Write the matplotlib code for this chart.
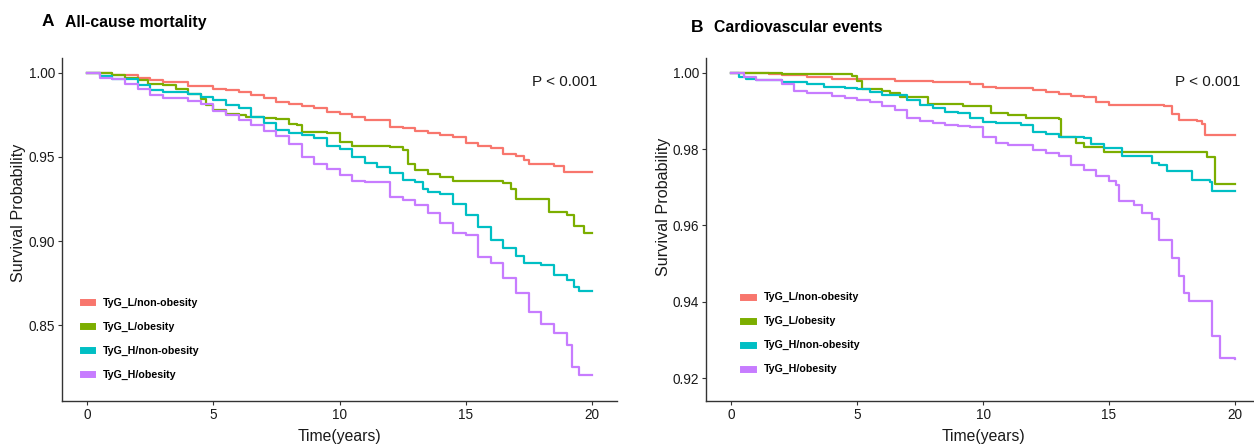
import numpy as np
import matplotlib.pyplot as plt
from matplotlib.lines import Line2D

plt.rcParams['font.family'] = ['Liberation Sans', 'DejaVu Sans']

groups = ['TyG_L/non-obesity', 'TyG_L/obesity', 'TyG_H/non-obesity', 'TyG_H/obesity']
colors = ['#F8766D', '#7CAE00', '#00BFC4', '#C77CFF']

# ---- panel A: all-cause mortality ----
a_red_t = [0, 1, 2, 2.5, 3, 4, 5, 5.5, 6, 6.5, 7, 7.5, 8, 8.5, 9, 9.5, 10, 10.5, 11, 12, 12.5, 13,
           13.5, 14, 14.5, 15, 15.5, 16, 16.5, 17, 17.3, 17.5, 18, 18.5, 18.9, 20]
a_red_s = [1.0, 0.9986, 0.9972, 0.996, 0.9947, 0.992, 0.9907, 0.9897, 0.9887, 0.9867, 0.985, 0.983,
           0.9818, 0.9806, 0.9794, 0.9766, 0.9754, 0.974, 0.972, 0.968, 0.967, 0.9653, 0.964, 0.963,
           0.962, 0.9584, 0.9564, 0.9554, 0.9517, 0.9505, 0.948, 0.946, 0.9457, 0.9445, 0.941, 0.941]

a_grn_t = [0, 1, 1.5, 2, 2.4, 3, 3.5, 4, 4.5, 4.7, 5, 5.5, 6, 6.3, 7, 7.5, 8, 8.3, 8.5, 9, 9.5, 10,
           10.5, 12, 12.5, 12.7, 13, 13.5, 14, 14.5, 16.5, 16.8, 17, 18.3, 19, 19.3, 19.7, 20]
a_grn_s = [1.0, 0.999, 0.997, 0.996, 0.9937, 0.9927, 0.9907, 0.9877, 0.9843, 0.981, 0.978, 0.9758,
           0.975, 0.9735, 0.973, 0.9725, 0.9695, 0.969, 0.965, 0.9648, 0.964, 0.959, 0.9566, 0.9558,
           0.954, 0.946, 0.942, 0.940, 0.938, 0.936, 0.9347, 0.931, 0.925, 0.9175, 0.9155, 0.909,
           0.905, 0.905]

a_cyn_t = [0, 0.5, 1, 2, 2.5, 3, 4, 4.5, 5, 5.5, 6, 6.5, 7, 7.5, 8, 8.5, 9, 9.5, 10, 10.5, 11, 11.5,
           12, 12.5, 13, 13.3, 13.5, 14, 14.5, 15, 15.5, 16, 16.5, 17, 17.3, 18, 18.5, 19, 19.3,
           19.5, 20]
a_cyn_s = [1.0, 0.998, 0.9966, 0.9927, 0.990, 0.9887, 0.9877, 0.9857, 0.9838, 0.9808, 0.979, 0.974,
           0.970, 0.9663, 0.9645, 0.963, 0.9614, 0.9564, 0.9546, 0.950, 0.9465, 0.944, 0.9406,
           0.9366, 0.935, 0.9307, 0.929, 0.928, 0.922, 0.9155, 0.9085, 0.9006, 0.8956, 0.891,
           0.8867, 0.8857, 0.880, 0.877, 0.8725, 0.870, 0.870]

a_pur_t = [0, 0.5, 1, 1.5, 2, 2.5, 3, 4, 4.5, 5, 5.5, 6, 6.5, 7, 7.5, 8, 8.5, 9, 9.5, 10, 10.5, 11,
           12, 12.5, 13, 13.5, 14, 14.5, 15, 15.5, 16, 16.5, 17, 17.5, 18, 18.5, 19, 19.2, 19.5, 20]
a_pur_s = [1.0, 0.997, 0.9962, 0.9937, 0.9907, 0.9867, 0.9853, 0.9834, 0.9818, 0.9774, 0.975, 0.972,
           0.969, 0.9655, 0.9624, 0.9576, 0.950, 0.9461, 0.9426, 0.9392, 0.936, 0.935, 0.926,
           0.9244, 0.9214, 0.9164, 0.9105, 0.9045, 0.9035, 0.8905, 0.8867, 0.8778, 0.869, 0.858,
           0.8507, 0.845, 0.838, 0.8253, 0.8203, 0.8203]

# ---- panel B: cardiovascular events ----
b_red_t = [0, 1.5, 2, 3, 4, 5, 6.5, 7, 8, 9.5, 10, 10.5, 12, 12.5, 13, 13.5, 14, 14.5, 15, 16, 17.2,
           17.5, 17.8, 18.5, 18.7, 18.8, 20]
b_red_s = [1.0, 0.9998, 0.9994, 0.999, 0.9985, 0.9983, 0.998, 0.9978, 0.9975, 0.9972, 0.9963, 0.996,
           0.9955, 0.995, 0.9944, 0.9939, 0.9936, 0.9924, 0.9916, 0.9915, 0.9913, 0.9892, 0.9877,
           0.9873, 0.9866, 0.9837, 0.9837]

b_grn_t = [0, 2, 4.8, 5, 5.2, 6, 6.3, 6.7, 7.8, 9.2, 10.3, 11, 11.7, 13, 13.1, 13.5, 13.7, 14, 14.8,
           18.9, 19.2, 20]
b_grn_s = [1.0, 0.9997, 0.9991, 0.998, 0.9957, 0.9953, 0.9946, 0.9937, 0.9918, 0.9913, 0.9896,
           0.989, 0.9883, 0.988, 0.9833, 0.9831, 0.9815, 0.9807, 0.9793, 0.978, 0.971, 0.971]

b_cyn_t = [0, 0.3, 0.6, 1, 2, 3, 3.7, 4.5, 5, 5.5, 6, 7, 7.5, 8, 8.5, 9, 9.5, 10, 10.5, 11.5, 12,
           12.5, 13, 14, 14.3, 14.8, 15.5, 16.7, 17, 17.3, 18.3, 19, 19.1, 20]
b_cyn_s = [1.0, 0.999, 0.9983, 0.9981, 0.9977, 0.997, 0.9963, 0.996, 0.9957, 0.995, 0.9942, 0.993,
           0.9916, 0.9907, 0.9898, 0.9894, 0.9881, 0.9872, 0.9868, 0.9863, 0.9844, 0.984, 0.9831,
           0.9829, 0.9814, 0.9803, 0.9781, 0.9763, 0.9759, 0.9742, 0.972, 0.9715, 0.969, 0.969]

b_pur_t = [0, 0.5, 1, 2, 2.5, 3, 4, 4.5, 5, 5.5, 6, 6.5, 7, 7.5, 8, 8.5, 9, 9.5, 10, 10.5, 11, 12,
           12.5, 13, 13.5, 14, 14.5, 15, 15.3, 15.4, 16, 16.3, 16.7, 17, 17.5, 17.8, 18, 18.2, 19.1,
           19.4, 20]
b_pur_s = [1.0, 0.9988, 0.9981, 0.9972, 0.9953, 0.9946, 0.9939, 0.9933, 0.993, 0.9924, 0.9913,
           0.9904, 0.9881, 0.9875, 0.9868, 0.9863, 0.9861, 0.9857, 0.9831, 0.9816, 0.9811, 0.9798,
           0.979, 0.9781, 0.9759, 0.9746, 0.973, 0.9716, 0.9707, 0.9663, 0.9655, 0.9633, 0.9616,
           0.9563, 0.9516, 0.9468, 0.9424, 0.9403, 0.9311, 0.9252, 0.925]

panel_a = [(a_red_t, a_red_s), (a_grn_t, a_grn_s), (a_cyn_t, a_cyn_s), (a_pur_t, a_pur_s)]
panel_b = [(b_red_t, b_red_s), (b_grn_t, b_grn_s), (b_cyn_t, b_cyn_s), (b_pur_t, b_pur_s)]

fig = plt.figure(figsize=(12.54, 4.46), dpi=100)
W, H = 1254, 446
axA = fig.add_axes([62 / W, 45 / H, 555 / W, 343 / H])
axB = fig.add_axes([706 / W, 45 / H, 554 / W, 343 / H])


def style(ax, curves, ylim, yticks, leg_anchor, ylab_x, ylab_y):
    for (t, s), c in zip(curves, colors):
        ax.step(t, s, where='post', color=c, lw=1.6)
    ax.set_xlim(-1, 21)
    ax.set_ylim(*ylim)
    ax.set_xticks([0, 5, 10, 15, 20])
    ax.set_yticks(yticks)
    ax.set_yticklabels(['%.2f' % v for v in yticks])
    for side in ['top', 'right']:
        ax.spines[side].set_visible(False)
    for side in ['left', 'bottom']:
        ax.spines[side].set_color('#333333')
        ax.spines[side].set_linewidth(1.0)
    ax.tick_params(colors='#333333', labelcolor='#1a1a1a', labelsize=9.8, length=3, width=0.8,
                   pad=2.2)
    ax.set_xlabel('Time(years)', fontsize=11.3, color='#1a1a1a')
    ax.xaxis.set_label_coords(0.5, -0.082)
    ax.set_ylabel('Survival Probability', fontsize=11.6, color='#1a1a1a')
    ax.yaxis.set_label_coords(ylab_x, ylab_y)
    ax.text(0.965, 0.93, 'P < 0.001', transform=ax.transAxes, ha='right', va='center',
            fontsize=11, color='#1a1a1a')
    handles = [Line2D([], [], color=c, lw=5) for c in colors]
    ax.legend(handles, groups, loc='upper left', bbox_to_anchor=leg_anchor, frameon=False,
              prop={'weight': 'bold', 'size': 7.7}, handlelength=0.9, handletextpad=1.0,
              labelspacing=1.3)


style(axA, panel_a, (0.8048, 1.0089), [0.85, 0.90, 0.95, 1.00], (0.02, 0.33), -0.064, 0.55)
style(axB, panel_b, (0.914, 1.0039), [0.92, 0.94, 0.96, 0.98, 1.00], (0.05, 0.345), -0.064, 0.565)

fig.text(42 / W, 1 - 22 / H, 'A', fontsize=12.5, fontweight='bold', va='center')
fig.text(65 / W, 1 - 22 / H, 'All-cause mortality', fontsize=11.3, fontweight='bold', va='center')
fig.text(691 / W, 1 - 27 / H, 'B', fontsize=12.5, fontweight='bold', va='center')
fig.text(714 / W, 1 - 27 / H, 'Cardiovascular events', fontsize=11.3, fontweight='bold', va='center')

fig.savefig('out.png', dpi=100)
